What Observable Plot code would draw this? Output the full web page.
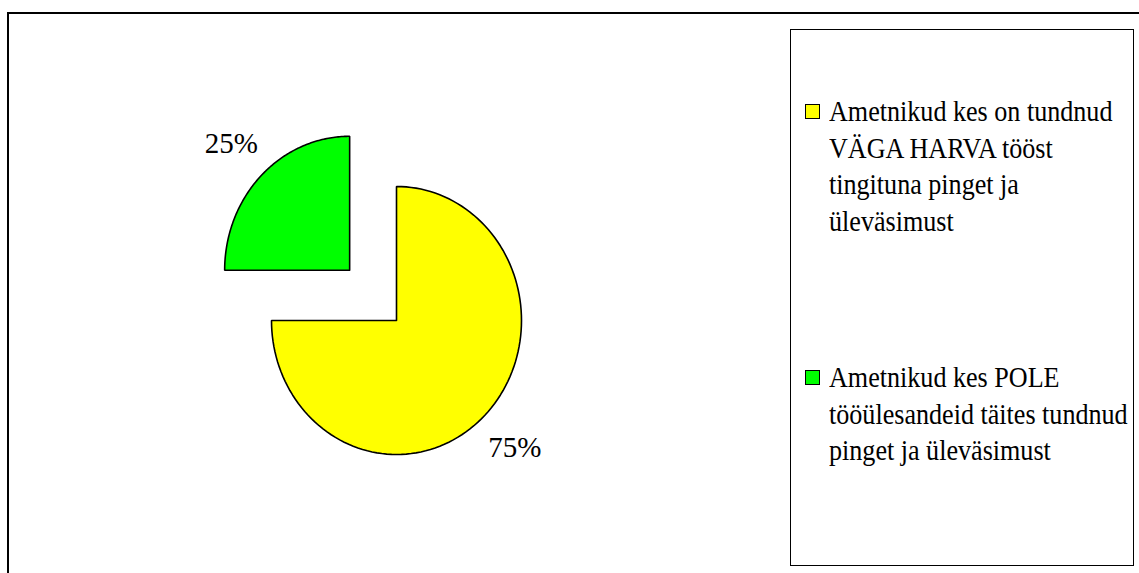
<!DOCTYPE html>
<html>
<head>
<meta charset="utf-8">
<script src="https://cdn.jsdelivr.net/npm/d3@7"></script>
<script src="https://cdn.jsdelivr.net/npm/@observablehq/plot@0.6"></script>
<style>
  html, body { margin: 0; padding: 0; background: #fff; }
  #wrap { position: relative; width: 1139px; height: 573px; overflow: hidden; font-family: "Liberation Serif", "Times New Roman", serif; }
  #frame { position: absolute; left: 7px; top: 12px; width: 1150px; height: 600px; border: 2px solid #000; box-sizing: border-box; }
  #legend { position: absolute; left: 790px; top: 29px; width: 344px; height: 537px; border: 1.5px solid #000; box-sizing: border-box; }
  .item { position: absolute; left: 0; }
  .sw { position: absolute; left: 14px; width: 15px; height: 15px; border: 1.2px solid #000; box-sizing: border-box; }
  .txt { position: absolute; left: 38px; font-size: 30px; line-height: 36.5px; white-space: nowrap; transform: scaleX(0.87); transform-origin: left top; color: #000; }
  #chart { position: absolute; left: 0; top: 0; }
</style>
</head>
<body>
<div id="wrap">
  <div id="frame"></div>
  <div id="chart"></div>
  <div id="legend"></div>
</div>
<script>
// ---- data ----
const categories = [
  "Ametnikud kes on tundnud VÄGA HARVA tööst tingituna pinget ja üleväsimust",
  "Ametnikud kes POLE tööülesandeid täites tundnud pinget ja üleväsimust"
];
const values = [75, 25];
const labels = ["75%", "25%"];
const colors = ["#ffff00", "#00ff00"];
const explode = [0, 0.53];
const legendLines = [
  ["Ametnikud kes on tundnud", "VÄGA HARVA tööst", "tingituna pinget ja", "üleväsimust"],
  ["Ametnikud kes POLE", "tööülesandeid täites tundnud", "pinget ja üleväsimust"]
];

// ---- geometry from data (unit circle; angles clockwise from 12 o'clock) ----
const total = d3.sum(values);
let cum = 0;
const slices = values.map((v, i) => {
  const a0 = cum / total * 2 * Math.PI;
  cum += v;
  const a1 = cum / total * 2 * Math.PI;
  const mid = (a0 + a1) / 2;
  const cx = explode[i] * Math.sin(mid), cy = explode[i] * Math.cos(mid);
  const pts = [{x: cx, y: cy}];
  const n = 120;
  for (let k = 0; k <= n; k++) {
    const a = a0 + (a1 - a0) * k / n;
    pts.push({x: cx + Math.sin(a), y: cy + Math.cos(a)});
  }
  pts.push({x: cx, y: cy});
  return {cat: categories[i], color: colors[i], pts,
          lx: cx + 1.34 * Math.sin(mid), ly: cy + 1.34 * Math.cos(mid), label: labels[i]};
});

const chart = Plot.plot({
  width: 1139,
  height: 573,
  margin: 0,
  x: {domain: [-1, 1], range: [271, 521], axis: null},
  y: {domain: [-1, 1], range: [454, 186], axis: null},
  style: {background: "transparent", overflow: "visible"},
  marks: [
    ...slices.map(s => Plot.line(s.pts, {x: "x", y: "y", fill: s.color, stroke: "#000", strokeWidth: 1.6, strokeLinejoin: "miter", curve: "linear"})),
    Plot.text(slices, {x: "lx", y: "ly", text: "label", fontSize: 29, fill: "#000", fontFamily: "Liberation Serif", textAnchor: "middle", lineAnchor: "middle"})
  ]
});
document.getElementById("chart").appendChild(chart);

// ---- legend ----
const legend = document.getElementById("legend");
const itemTops = [63, 329];
categories.forEach((c, i) => {
  const item = document.createElement("div");
  item.className = "item";
  item.style.top = itemTops[i] + "px";
  const sw = document.createElement("div");
  sw.className = "sw";
  sw.style.background = colors[i];
  sw.style.top = "11px";
  const t = document.createElement("div");
  t.className = "txt";
  t.style.top = "0px";
  t.innerHTML = legendLines[i].join("<br>");
  item.appendChild(sw);
  item.appendChild(t);
  legend.appendChild(item);
});
</script>
</body>
</html>
